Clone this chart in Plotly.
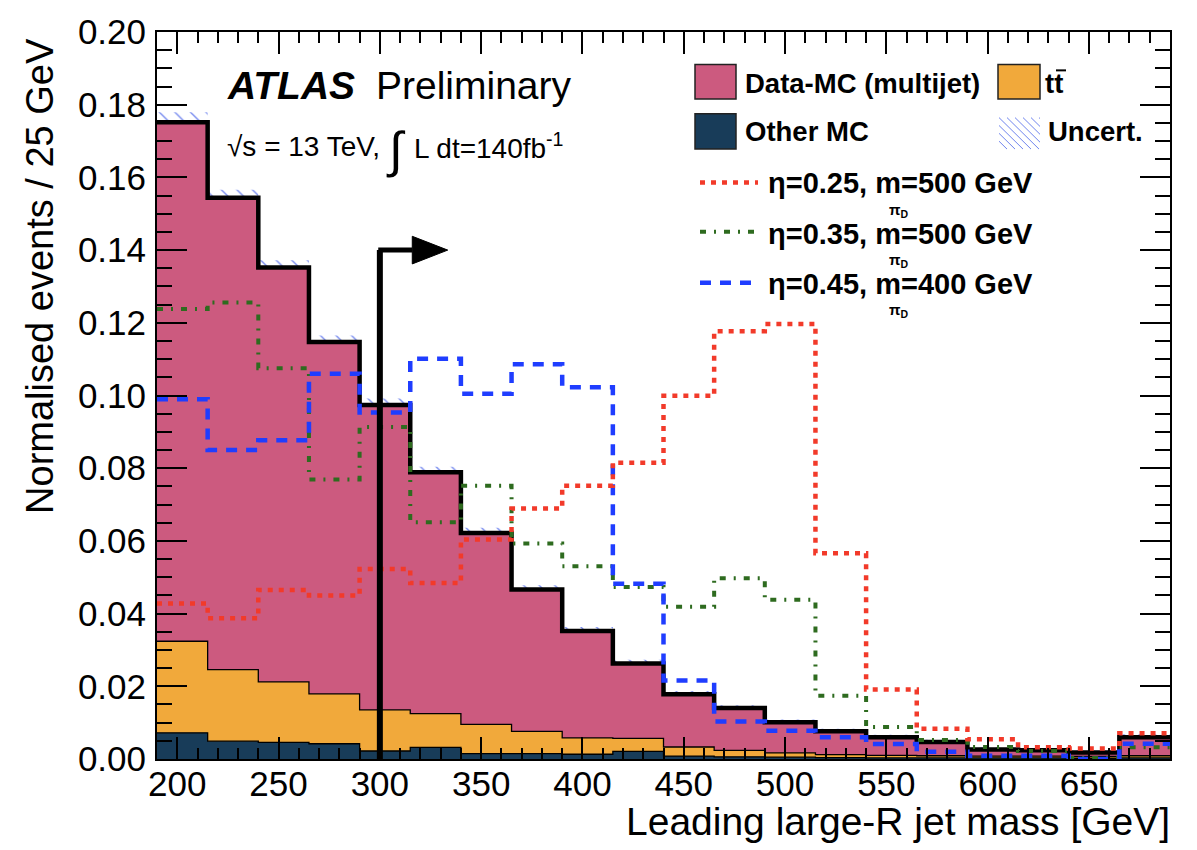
import plotly.graph_objects as go

# ---------------- data ----------------
bin_edges = [190, 215, 240, 265, 290, 315, 340, 365, 390, 415, 440,
             465, 490, 515, 540, 565, 590, 615, 640, 665, 690]

other_mc = [0.0072, 0.0049, 0.0046, 0.0042, 0.0022, 0.0032, 0.0015, 0.0015, 0.0013, 0.0021,
            0.0008, 0.0006, 0.0005, 0.0004, 0.0003, 0.0003, 0.0003, 0.0003, 0.0002, 0.0003]
ttbar = [0.0252, 0.0197, 0.0166, 0.0137, 0.0113, 0.0093, 0.0080, 0.0061, 0.0045, 0.0036,
         0.0025, 0.0018, 0.0012, 0.0008, 0.0007, 0.0006, 0.0005, 0.0005, 0.0005, 0.0006]
multijet = [0.1428, 0.1298, 0.1140, 0.0968, 0.0839, 0.0664, 0.0527, 0.0390, 0.0294, 0.0206,
            0.0145, 0.0116, 0.0084, 0.0064, 0.0050, 0.0038, 0.0018, 0.0016, 0.0011, 0.0051]
uncert = [0.0027, 0.0022, 0.0020, 0.0018, 0.0018, 0.0015, 0.0014, 0.0012, 0.0011, 0.0010,
          0.0009, 0.0008, 0.0008, 0.0007, 0.0007, 0.0006, 0.0006, 0.0006, 0.0005, 0.0008]

sig_025_500 = [0.0428, 0.0387, 0.0465, 0.0450, 0.0523, 0.0484, 0.0604, 0.0689, 0.0752, 0.0815,
               0.0999, 0.1177, 0.1197, 0.0566, 0.0191, 0.0083, 0.0054, 0.0032, 0.0029, 0.0071]
sig_035_500 = [0.1238, 0.1256, 0.1075, 0.0769, 0.0913, 0.0651, 0.0752, 0.0593, 0.0530, 0.0473,
               0.0419, 0.0497, 0.0438, 0.0174, 0.0088, 0.0052, 0.0033, 0.0022, 0.0003, 0.0032]
sig_045_400 = [0.0990, 0.0850, 0.0877, 0.1060, 0.0953, 0.1101, 0.1005, 0.1086, 0.1023, 0.0482,
               0.0216, 0.0103, 0.0078, 0.0060, 0.0041, 0.0020, 0.0009, 0.0009, 0.0000, 0.0042]

cut_value = 300
arrow_level = 0.14

x_tick_vals = [200, 250, 300, 350, 400, 450, 500, 550, 600, 650]
y_tick_vals = [0.00, 0.02, 0.04, 0.06, 0.08, 0.10, 0.12, 0.14, 0.16, 0.18, 0.20]

# ---------------- styling ----------------
FONT = "Liberation Sans"
C_PINK = "#cc5a7f"
C_ORANGE = "#f1a93b"
C_DARK = "#183c59"
C_RED = "#f23a2a"
C_GREEN = "#2e6b1f"
C_BLUE = "#1f3dff"
C_HATCH = "#6f84ee"

W, H = 1197, 850
L, R, T, B = 157, 1170, 20, 759


def px(xp):
    return (xp - L) / (R - L)


def py(yp):
    return (B - yp) / (B - T)


def step(vals):
    return list(vals) + [vals[-1]]


stack_other = other_mc
stack_tt = [a + b for a, b in zip(other_mc, ttbar)]
total = [a + b for a, b in zip(stack_tt, multijet)]
centers = [(bin_edges[i] + bin_edges[i + 1]) / 2 for i in range(len(bin_edges) - 1)]
widths = [bin_edges[i + 1] - bin_edges[i] for i in range(len(bin_edges) - 1)]

fig = go.Figure()

fig.add_trace(go.Scatter(x=bin_edges, y=step(total), mode="lines", line_shape="hv",
                         line=dict(width=0, color=C_PINK), fill="tozeroy", fillcolor=C_PINK,
                         showlegend=False, hoverinfo="skip"))
fig.add_trace(go.Scatter(x=bin_edges, y=step(stack_tt), mode="lines", line_shape="hv",
                         line=dict(width=1.3, color="black"), fill="tozeroy", fillcolor=C_ORANGE,
                         showlegend=False, hoverinfo="skip"))
fig.add_trace(go.Scatter(x=bin_edges, y=step(stack_other), mode="lines", line_shape="hv",
                         line=dict(width=1.3, color="black"), fill="tozeroy", fillcolor=C_DARK,
                         showlegend=False, hoverinfo="skip"))
fig.add_trace(go.Bar(x=centers, width=widths,
                     base=[t - u for t, u in zip(total, uncert)],
                     y=[2 * u for u in uncert],
                     marker=dict(color=C_HATCH, line=dict(width=0),
                                 pattern=dict(shape="\\", size=11, solidity=0.12,
                                              fillmode="replace")),
                     showlegend=False, hoverinfo="skip"))
fig.add_trace(go.Scatter(x=bin_edges, y=step(total), mode="lines", line_shape="hv",
                         line=dict(width=4.5, color="black"), showlegend=False,
                         hoverinfo="skip"))

fig.add_trace(go.Scatter(x=bin_edges, y=step(sig_035_500), mode="lines", line_shape="hv",
                         line=dict(width=4, color=C_GREEN, dash="6px,8px,2px,8px"),
                         showlegend=False, hoverinfo="skip"))
fig.add_trace(go.Scatter(x=bin_edges, y=step(sig_045_400), mode="lines", line_shape="hv",
                         line=dict(width=4.5, color=C_BLUE, dash="11px,9px"),
                         showlegend=False, hoverinfo="skip"))
fig.add_trace(go.Scatter(x=bin_edges, y=step(sig_025_500), mode="lines", line_shape="hv",
                         line=dict(width=4.5, color=C_RED, dash="5px,6px"),
                         showlegend=False, hoverinfo="skip"))

shapes = []
# cut arrow
head_start = cut_value + 16
head_end = cut_value + 33.5
head_half = 0.0038
shapes.append(dict(type="line", xref="x", yref="y", x0=cut_value, x1=cut_value, y0=0,
                   y1=arrow_level, line=dict(color="black", width=6)))
shapes.append(dict(type="line", xref="x", yref="y", x0=cut_value - 0.8, x1=head_start,
                   y0=arrow_level, y1=arrow_level, line=dict(color="black", width=5)))
shapes.append(dict(type="path", xref="x", yref="y",
                   path=f"M {head_start} {arrow_level + head_half} L {head_end} {arrow_level} "
                        f"L {head_start} {arrow_level - head_half} Z",
                   fillcolor="black", line=dict(color="black", width=1)))


# legend boxes
def box(x0, y0, x1, y1, color):
    shapes.append(dict(type="rect", xref="paper", yref="paper", x0=px(x0), x1=px(x1),
                       y0=py(y1), y1=py(y0), fillcolor=color,
                       line=dict(color="#222222", width=1.5)))


box(695, 53, 736, 88, C_PINK)
box(998, 53, 1040, 88, C_ORANGE)
box(695, 103, 736, 139, C_DARK)

# hatch legend box
hx0, hx1, hy0, hy1 = 999, 1040, 107, 139
step_px = 8
for k in range(-5, 10):
    off = k * step_px
    xa = hx0
    ya = hy0 - off
    xb = hx1
    yb = hy0 - off + (hx1 - hx0)
    if ya < hy0:
        xa = xa + (hy0 - ya)
        ya = hy0
    if yb > hy1:
        xb = xb - (yb - hy1)
        yb = hy1
    if xa < xb and ya < yb:
        shapes.append(dict(type="line", xref="paper", yref="paper", x0=px(xa), x1=px(xb),
                           y0=py(ya), y1=py(yb), line=dict(color=C_HATCH, width=1)))

# legend line samples
shapes.append(dict(type="line", xref="paper", yref="paper", x0=px(700), x1=px(758),
                   y0=py(173), y1=py(173), line=dict(color=C_RED, width=4.5, dash="5px,6px")))
shapes.append(dict(type="line", xref="paper", yref="paper", x0=px(700), x1=px(758),
                   y0=py(223), y1=py(223),
                   line=dict(color=C_GREEN, width=4, dash="6px,8px,2px,8px")))
shapes.append(dict(type="line", xref="paper", yref="paper", x0=px(700), x1=px(758),
                   y0=py(275), y1=py(275), line=dict(color=C_BLUE, width=4.5, dash="11px,9px")))
# bar over second t of ttbar
shapes.append(dict(type="line", xref="paper", yref="paper", x0=px(1056), x1=px(1066),
                   y0=py(59), y1=py(59), line=dict(color="black", width=2)))

annotations = []


def text(xp, yp, s, size, xanchor="left", yanchor="middle", color="black", angle=0):
    annotations.append(dict(x=px(xp), y=py(yp), xref="paper", yref="paper", text=s,
                            showarrow=False, xanchor=xanchor, yanchor=yanchor,
                            textangle=angle,
                            font=dict(family=FONT, size=size, color=color)))


text(743, 72, "<b>Data-MC (multijet)</b>", 27.5)
text(1043, 72, "<b>tt</b>", 27.5)
text(743, 121, "<b>Other MC</b>", 27.5)
text(1046, 121, "<b>Uncert.</b>", 27.5)
text(766, 174, "<b>η=0.25, m=500 GeV</b>", 29)
text(766, 225, "<b>η=0.35, m=500 GeV</b>", 29)
text(766, 276, "<b>η=0.45, m=400 GeV</b>", 29)
for yy in (201, 252, 303):
    text(887, yy, "<b>π<sub>D</sub></b>", 15)

text(225, 74, "<b><i>ATLAS</i></b>", 39)
text(374, 74, "Preliminary", 39)
text(225, 136, "√s = 13 TeV,", 28)
text(384, 140, "∫", 50)
text(412, 136, "L dt=140fb<sup>-1</sup>", 28)

# axis titles
text(1172, 823, "Leading large-R jet mass [GeV]", 39, xanchor="right")
annotations.append(dict(x=px(40), y=py(24), xref="paper", yref="paper",
                        text="Normalised events / 25 GeV", showarrow=False,
                        xanchor="center", yanchor="top", textangle=-90,
                        font=dict(family=FONT, size=38, color="black")))

fig.update_layout(
    width=W, height=H, autosize=False,
    margin=dict(l=L, r=W - R, t=T, b=H - B, pad=0),
    paper_bgcolor="white", plot_bgcolor="white",
    showlegend=False, barmode="overlay",
    shapes=shapes, annotations=annotations,
    font=dict(family=FONT, color="black"),
)
fig.update_xaxes(range=[bin_edges[0], bin_edges[-1]], tickvals=x_tick_vals,
                 ticks="inside", ticklen=22, tickwidth=2, tickcolor="black",
                 showline=True, linecolor="black", linewidth=2, mirror="allticks",
                 showgrid=False, zeroline=False, ticklabelstandoff=-7,
                 tickfont=dict(family=FONT, size=35, color="black"),
                 minor=dict(ticks="inside", ticklen=11, tickwidth=1.5, dtick=10,
                            tick0=200, tickcolor="black", showgrid=False))
fig.update_yaxes(range=[0, 0.2], tickvals=y_tick_vals, tickformat=".2f",
                 ticks="inside", ticklen=30, tickwidth=2, tickcolor="black",
                 showline=True, linecolor="black", linewidth=2, mirror="allticks",
                 showgrid=False, zeroline=False, ticklabelstandoff=2,
                 tickfont=dict(family=FONT, size=35, color="black"),
                 minor=dict(ticks="inside", ticklen=15, tickwidth=1.5, dtick=0.005,
                            tick0=0, tickcolor="black", showgrid=False))

fig.write_html("out.html")
